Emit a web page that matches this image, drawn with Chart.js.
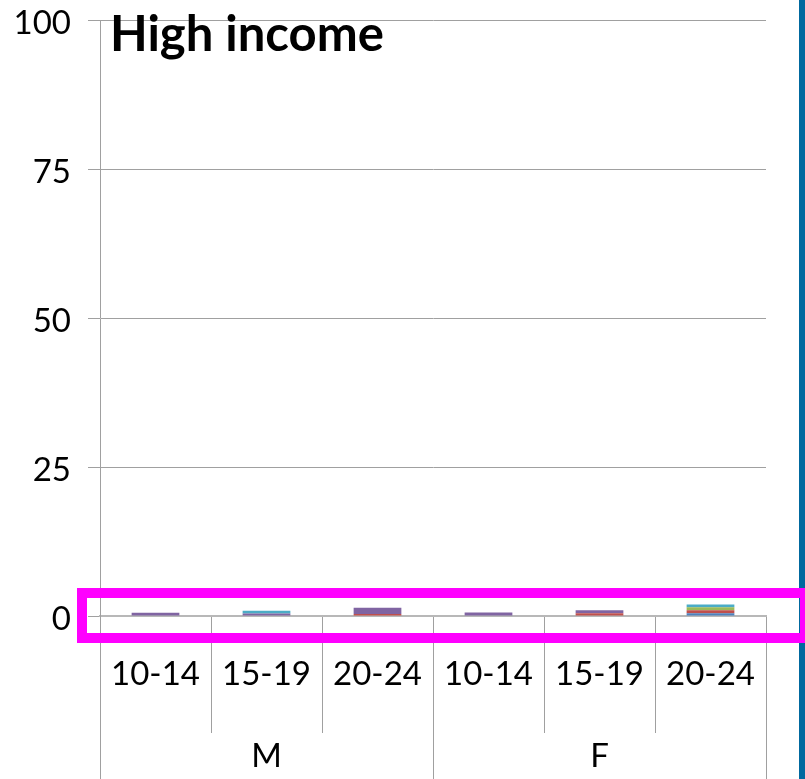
<!DOCTYPE html>
<html>
<head>
<meta charset="utf-8">
<script src="https://cdn.jsdelivr.net/npm/chart.js@4/dist/chart.umd.min.js"></script>
<style>
  body { margin: 0; background: #fff; }
  #wrap { width: 805px; height: 779px; }
</style>
</head>
<body>
<div id="wrap"><canvas id="chart" width="805" height="779"></canvas></div>
<script>
// data (percent)
var ageGroups = ["10-14", "15-19", "20-24", "10-14", "15-19", "20-24"];
var sexGroups = ["M", "F"];
var yTicks = [0, 25, 50, 75, 100];

var seriesNames = ["Series 1", "Series 2", "Series 3", "Series 4", "Series 5"];
var series1 = [0, 0, 0, 0, 0, 0.45];
var series2 = [0, 0, 0.35, 0, 0.45, 0.5];
var series3 = [0, 0, 0, 0, 0, 0.5];
var series4 = [0.55, 0.4, 1.05, 0.6, 0.5, 0];
var series5 = [0, 0.5, 0, 0, 0, 0.5];

var seriesColors = ["#4F81BD", "#C0504D", "#9BBB59", "#8064A2", "#4BACC6"];
var allSeries = [series1, series2, series3, series4, series5];

var fontFam = "Lato, 'Open Sans', sans-serif";
var gridGray = "#a0a0a0";

var datasets = [];
for (var i = 0; i < allSeries.length; i++) {
	datasets.push({
		label: seriesNames[i],
		data: allSeries[i],
		backgroundColor: seriesColors[i],
		borderWidth: 0,
		barPercentage: 0.43,
		categoryPercentage: 1.0
	});
}

// title, blue edge bar and the magenta highlight box
var decorations = {
	id: "decorations",
	afterDraw: function(chart) {
		var c = chart.ctx;
		var area = chart.chartArea;
		c.save();
		c.fillStyle = "#000";
		c.font = "bold 49px " + fontFam;
		c.textBaseline = "alphabetic";
		c.textAlign = "left";
		c.fillText("High income", area.left + 10, 51);

		c.fillStyle = "#00699f";
		c.fillRect(799, 0, 6, chart.height);

		c.strokeStyle = "#ff00ff";
		c.lineWidth = 10;
		c.strokeRect(area.left - 18, 593, chart.width - (area.left - 18), 45);
		c.restore();
	}
};

var ctx = document.getElementById("chart").getContext("2d");

var chart = new Chart(ctx, {
	type: "bar",
	data: {
		labels: ageGroups,
		datasets: datasets
	},
	options: {
		responsive: false,
		animation: false,
		devicePixelRatio: 1,
		layout: { padding: { top: 20, right: 39, left: 0, bottom: 0 } },
		plugins: {
			legend: { display: false },
			tooltip: { enabled: false }
		},
		scales: {
			x: {
				stacked: true,
				position: "bottom",
				grid: {
					offset: true,
					drawOnChartArea: false,
					tickLength: 117,
					color: gridGray,
					lineWidth: 1
				},
				border: { display: true, color: "#b8b8b8", width: 2 },
				ticks: {
					color: "#000",
					font: { family: fontFam, size: 33 },
					padding: -78,
					maxRotation: 0,
					autoSkip: false
				},
				afterFit: function(scale) {
					scale.height = 117;
					scale.paddingLeft = 0;
					scale.paddingRight = 0;
				}
			},
			x2: {
				type: "category",
				labels: sexGroups,
				position: "bottom",
				grid: {
					offset: true,
					drawOnChartArea: false,
					tickLength: 46,
					color: gridGray,
					lineWidth: 1
				},
				border: { display: false },
				ticks: {
					color: "#000",
					font: { family: fontFam, size: 33 },
					padding: -42,
					maxRotation: 0
				},
				afterFit: function(scale) {
					scale.height = 46;
					scale.paddingLeft = 0;
					scale.paddingRight = 0;
				}
			},
			y: {
				stacked: true,
				min: 0,
				max: 100,
				afterBuildTicks: function(scale) {
					scale.ticks = yTicks.map(function(v) { return { value: v }; });
				},
				grid: {
					color: gridGray,
					lineWidth: 1,
					tickLength: 12
				},
				border: { display: true, color: gridGray, width: 1 },
				ticks: {
					color: "#000",
					font: { family: fontFam, size: 33 },
					padding: 17,
					labelOffset: 3
				},
				afterFit: function(scale) {
					scale.width = 100;
					scale.paddingTop = 0;
					scale.paddingBottom = 0;
				}
			}
		}
	},
	plugins: [decorations]
});
</script>
</body>
</html>
